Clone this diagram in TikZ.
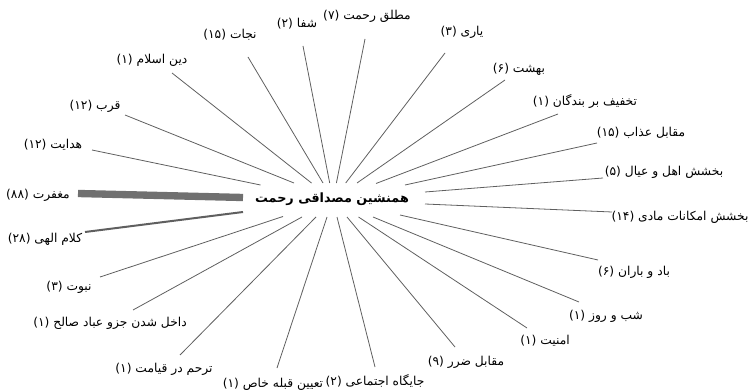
\documentclass[tikz,border=0pt]{standalone}
\usepackage{fontspec}
\TeXXeTstate=1
\newfontfamily\fa[Script=Arabic]{DejaVu Sans}
\definecolor{linegray}{RGB}{95,95,95}
\definecolor{bargray}{RGB}{112,112,112}
\tikzset{
  lbl/.style={inner sep=0pt,font=\fa\fontsize{9.2}{11}\selectfont},
  ctr/.style={inner sep=0pt,font=\fa\bfseries\fontsize{9.6}{12}\selectfont},
  ray/.style={draw=linegray,line width=0.6pt},
  heavyray/.style={draw=linegray,line width=1.5pt},
  barray/.style={draw=bargray,line width=5.5pt}
}
\begin{document}
\begin{tikzpicture}[x=0.75pt,y=-0.75pt]
\useasboundingbox (0,0) rectangle (750,392);
\node[ctr] (c) at (332,199) {\beginR همنشین مصداقی رحمت\endR};
% labels
\node[lbl] (l1)  at (152,60)  {\beginR دین اسلام (۱)\endR};
\node[lbl] (l2)  at (230,35)  {\beginR نجات (\beginL۱۵\endL)\endR};
\node[lbl] (l3)  at (297,24)  {\beginR شفا (۲)\endR};
\node[lbl] (l4)  at (367,16)  {\beginR مطلق رحمت (۷)\endR};
\node[lbl] (l5)  at (462,32)  {\beginR یاری (۳)\endR};
\node[lbl] (l6)  at (519,69)  {\beginR بهشت (۶)\endR};
\node[lbl] (l7)  at (585,102) {\beginR تخفیف بر بندگان (۱)\endR};
\node[lbl] (l8)  at (641,133) {\beginR مقابل عذاب (\beginL۱۵\endL)\endR};
\node[lbl] (l9)  at (664,172) {\beginR بخشش اهل و عیال (۵)\endR};
\node[lbl] (l10) at (680,217) {\beginR بخشش امکانات مادی (\beginL۱۴\endL)\endR};
\node[lbl] (l11) at (634,272) {\beginR باد و باران (۶)\endR};
\node[lbl] (l12) at (606,316) {\beginR شب و روز (۱)\endR};
\node[lbl] (l13) at (545,341) {\beginR امنیت (۱)\endR};
\node[lbl] (l14) at (466,362) {\beginR مقابل ضرر (۹)\endR};
\node[lbl] (l15) at (375,381) {\beginR جایگاه اجتماعی (۲)\endR};
\node[lbl] (l16) at (273,384) {\beginR تعیین قبله خاص (۱)\endR};
\node[lbl] (l17) at (164,369) {\beginR ترحم در قیامت (۱)\endR};
\node[lbl] (l18) at (110,323) {\beginR داخل شدن جزو عباد صالح (۱)\endR};
\node[lbl] (l19) at (69,287)  {\beginR نبوت (۳)\endR};
\node[lbl] (l20) at (45,239)  {\beginR کلام الهی (\beginL۲۸\endL)\endR};
\node[lbl] (l21) at (38,195)  {\beginR مغفرت (\beginL۸۸\endL)\endR};
\node[lbl] (l22) at (53,145)  {\beginR هدایت (\beginL۱۲\endL)\endR};
\node[lbl] (l23) at (95,106)  {\beginR قرب (\beginL۱۲\endL)\endR};
% connector ends
\coordinate (o1) at (172,73);   \coordinate (i1) at (311.5,183);
\coordinate (o2) at (248,57);   \coordinate (i2) at (323,183);
\coordinate (o3) at (303,46);   \coordinate (i3) at (329.7,183);
\coordinate (o4) at (365,39);   \coordinate (i4) at (336.4,183);
\coordinate (o5) at (445,53);   \coordinate (i5) at (345.7,183);
\coordinate (o6) at (505,80);   \coordinate (i6) at (357,183);
\coordinate (o7) at (558,114);  \coordinate (i7) at (376,183.5);
\coordinate (o8) at (597,143);  \coordinate (i8) at (405,185);
\coordinate (o9) at (603,178);  \coordinate (i9) at (425,192);
\coordinate (o10) at (612,212); \coordinate (i10) at (425,204);
\coordinate (o11) at (598,260); \coordinate (i11) at (400,215);
\coordinate (o12) at (579,302); \coordinate (i12) at (373,217);
\coordinate (o13) at (527,328); \coordinate (i13) at (358.5,217);
\coordinate (o14) at (455,347); \coordinate (i14) at (347,217);
\coordinate (o15) at (375,367); \coordinate (i15) at (337,217);
\coordinate (o16) at (277,368); \coordinate (i16) at (327,217);
\coordinate (o17) at (180,355); \coordinate (i17) at (316,217);
\coordinate (o18) at (133,310); \coordinate (i18) at (302,217);
\coordinate (o19) at (100,277); \coordinate (i19) at (283,216.5);
\coordinate (o20) at (85,232);  \coordinate (i20) at (243,212);
\coordinate (o21) at (78,193.5);  \coordinate (i21) at (243,197.5);
\coordinate (o22) at (92,150);  \coordinate (i22) at (260.5,185);
\coordinate (o23) at (125,115); \coordinate (i23) at (294,183);
% rays
\foreach \k in {1,...,19,22,23} {\draw[ray] (o\k) -- (i\k);}
\draw[heavyray] (o20) -- (i20);
\draw[barray] (o21) -- (i21);
\end{tikzpicture}
\end{document}
